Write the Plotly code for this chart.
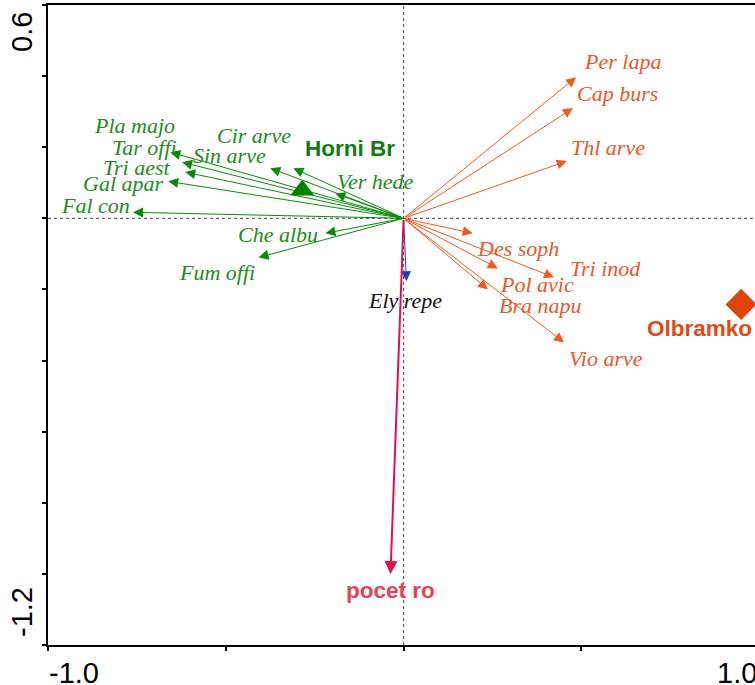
import plotly.graph_objects as go

# ---------------- data ----------------
species = ["Pla majo", "Tar offi", "Tri aest", "Gal apar", "Fal con",
           "Cir arve", "Sin arve", "Ver hede", "Che albu", "Fum offi",
           "Per lapa", "Cap burs", "Thl arve", "Des soph", "Tri inod",
           "Pol avic", "Bra napu", "Vio arve", "Ely repe"]
species_x = [-0.656, -0.623, -0.614, -0.662, -0.761,
             -0.310, -0.375, -0.192, -0.220, -0.408,
             0.485, 0.476, 0.459, 0.194, 0.423,
             0.265, 0.237, 0.451, 0.008]
species_y = [0.186, 0.158, 0.130, 0.104, 0.017,
             0.141, 0.141, 0.070, -0.042, -0.110,
             0.397, 0.310, 0.161, -0.042, -0.166,
             -0.141, -0.200, -0.349, -0.177]
species_group = ["Horni Br"] * 10 + ["Olbramko"] * 8 + ["none"]

env_names = ["pocet ro"]
env_x = [-0.037]
env_y = [-1.000]

centroid_names = ["Horni Br", "Olbramko"]
centroid_x = [-0.285, 0.949]
centroid_y = [0.079, -0.242]

x_tick_labels = ["-1.0", "1.0"]
y_tick_labels = ["0.6", "-1.2"]

# ---------------- styling ----------------
GREEN_LINE = "#0a8a0a"
GREEN_TEXT = "#1c8c1c"
ORANGE_LINE = "#ee5a22"
ORANGE_TEXT = "#e8582a"
BLUE = "#2040b0"
RED = "#e3104c"

group_line = {"Horni Br": GREEN_LINE, "Olbramko": ORANGE_LINE, "none": BLUE}
group_text = {"Horni Br": GREEN_TEXT, "Olbramko": ORANGE_TEXT, "none": "#111111"}

# label pixel offsets (screen dx, dy) relative to arrow tip
label_offsets = {
    "Pla majo": (-36, -27), "Tar offi": (-38, -15), "Tri aest": (-48, -5),
    "Gal apar": (-45, 2), "Fal con": (-38, -7), "Cir arve": (-39, -33),
    "Sin arve": (-41, -13), "Ver hede": (40, -12), "Che albu": (-47, 1),
    "Fum offi": (-42, 15), "Per lapa": (46, -16), "Cap burs": (45, -15),
    "Thl arve": (41, -14), "Des soph": (45, 15), "Tri inod": (51, -9),
    "Pol avic": (39, 16), "Bra napu": (53, 16), "Vio arve": (42, 16),
    "Ely repe": (-1, 19),
}
env_offsets = {"pocet ro": (0, 17)}
centroid_offsets = {"Horni Br": (48, -42), "Olbramko": (-42, 24)}

SERIF = "Liberation Serif, Times New Roman, serif"
SANS = "Liberation Sans, Arial, sans-serif"

fig = go.Figure()
annotations = []

# species arrows
for name, x, y, g in zip(species, species_x, species_y, species_group):
    annotations.append(dict(
        x=x, y=y, xref="x", yref="y", ax=0, ay=0, axref="x", ayref="y",
        text="", showarrow=True, arrowhead=2, arrowsize=2, arrowwidth=1,
        arrowcolor=group_line[g], standoff=0,
    ))
    dx, dy = label_offsets[name]
    annotations.append(dict(
        x=x, y=y, xref="x", yref="y", text="<i>" + name + "</i>",
        showarrow=False, xanchor="center", yanchor="middle",
        xshift=dx, yshift=-dy,
        font=dict(family=SERIF, size=22, color=group_text[g]),
    ))

# environmental arrow
for name, x, y in zip(env_names, env_x, env_y):
    annotations.append(dict(
        x=x, y=y, xref="x", yref="y", ax=0, ay=0, axref="x", ayref="y",
        text="", showarrow=True, arrowhead=2, arrowsize=1.3, arrowwidth=2,
        arrowcolor=RED, standoff=0,
    ))
    dx, dy = env_offsets[name]
    annotations.append(dict(
        x=x, y=y, xref="x", yref="y", text="<b>" + name + "</b>",
        showarrow=False, xanchor="center", yanchor="middle",
        xshift=dx, yshift=-dy,
        font=dict(family=SANS, size=22.5, color="#e24458"),
    ))

# centroids
fig.add_trace(go.Scatter(
    x=[centroid_x[0]], y=[centroid_y[0]], mode="markers",
    marker=dict(symbol="triangle-up", size=21, color="#008000"),
    hoverinfo="skip", showlegend=False,
))
fig.add_trace(go.Scatter(
    x=[centroid_x[1]], y=[centroid_y[1]], mode="markers",
    marker=dict(symbol="diamond", size=24, color="#e04408"),
    hoverinfo="skip", showlegend=False,
))
cent_colors = {"Horni Br": "#127a12", "Olbramko": "#e04a14"}
for name, x, y in zip(centroid_names, centroid_x, centroid_y):
    dx, dy = centroid_offsets[name]
    annotations.append(dict(
        x=x, y=y, xref="x", yref="y", text="<b>" + name + "</b>",
        showarrow=False, xanchor="center", yanchor="middle",
        xshift=dx, yshift=-dy,
        font=dict(family=SANS, size=22.5, color=cent_colors[name]),
    ))

# axis end labels
tickfont = dict(family=SANS, size=29, color="#000000")
annotations.append(dict(x=0, y=0, xref="paper", yref="paper", text=x_tick_labels[0],
                        showarrow=False, xanchor="center", yanchor="middle",
                        xshift=26, yshift=-28, font=tickfont))
annotations.append(dict(x=1, y=0, xref="paper", yref="paper", text=x_tick_labels[1],
                        showarrow=False, xanchor="center", yanchor="middle",
                        xshift=-18, yshift=-28, font=tickfont))
annotations.append(dict(x=0, y=1, xref="paper", yref="paper", text=y_tick_labels[0],
                        showarrow=False, xanchor="center", yanchor="middle", textangle=-90,
                        xshift=-26, yshift=-27, font=tickfont))
annotations.append(dict(x=0, y=0, xref="paper", yref="paper", text=y_tick_labels[1],
                        showarrow=False, xanchor="center", yanchor="middle", textangle=-90,
                        xshift=-26, yshift=33, font=tickfont))

shapes = [
    dict(type="line", xref="x", yref="paper", x0=0, x1=0, y0=0, y1=1,
         line=dict(color="#444444", width=1, dash="dot"), layer="below"),
    dict(type="line", xref="paper", yref="y", x0=0, x1=1, y0=0, y1=0,
         line=dict(color="#444444", width=1, dash="dot"), layer="below"),
]

fig.update_layout(
    width=755, height=685,
    margin=dict(l=48, r=0, t=5, b=40),
    paper_bgcolor="white", plot_bgcolor="white",
    showlegend=False,
    annotations=annotations,
    shapes=shapes,
    xaxis=dict(range=[-1.0, 0.988], showgrid=False, zeroline=False,
               showline=True, linecolor="black", linewidth=2, mirror=True,
               tickvals=[-1.0, -0.5, 0.0, 0.5], ticks="outside", ticklen=4,
               tickwidth=2, tickcolor="black", showticklabels=False),
    yaxis=dict(range=[-1.2, 0.6], showgrid=False, zeroline=False,
               showline=True, linecolor="black", linewidth=2, mirror=False,
               tickvals=[-1.2, -1.0, -0.8, -0.6, -0.4, -0.2, 0.0, 0.2, 0.4, 0.6],
               ticks="outside", ticklen=4, tickwidth=2, tickcolor="black",
               showticklabels=False),
)

fig.write_html("out.html", config={"displayModeBar": False},
               post_script="document.body.style.margin='0px';")
